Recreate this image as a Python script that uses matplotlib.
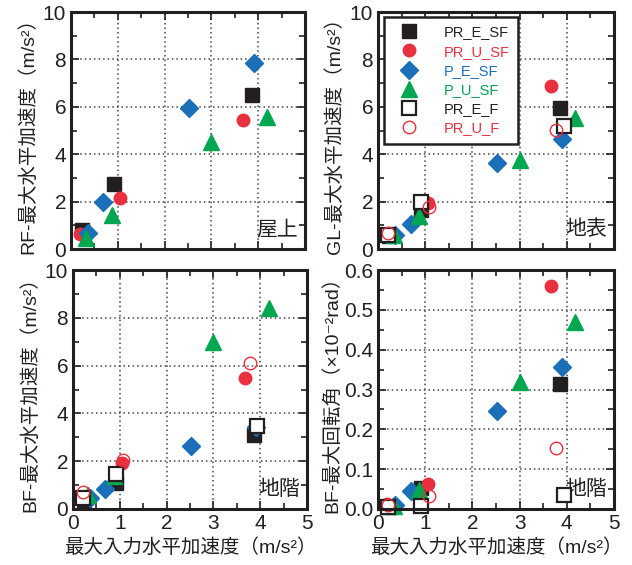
import matplotlib
matplotlib.use("Agg")
import matplotlib.pyplot as plt
from matplotlib.ticker import MultipleLocator

plt.rcParams['font.family'] = ['Liberation Sans', 'Noto Sans CJK JP', 'DejaVu Sans']

# input peak acceleration for each series (m/s^2)
x_pr_e = [0.24, 0.92, 3.86]
x_pr_u = [0.20, 1.05, 3.67]
x_p_e = [0.36, 0.69, 2.53, 3.90]
x_p_u = [0.33, 0.87, 3.00, 4.18]
x_pr_e_f = [0.22, 0.92, 3.94]
x_pr_u_f = [0.22, 1.07, 3.78]

# roof (RF)
rf_pr_e_sf = [0.80, 2.76, 6.50]
rf_pr_u_sf = [0.62, 2.15, 5.44]
rf_p_e_sf = [0.68, 1.98, 5.94, 7.83]
rf_p_u_sf = [0.45, 1.43, 4.50, 5.58]

# ground surface (GL)
gl_pr_e_sf = [0.55, 1.65, 5.94]
gl_pr_u_sf = [0.62, 1.93, 6.88]
gl_p_e_sf = [0.59, 1.05, 3.64, 4.64]
gl_p_u_sf = [0.60, 1.39, 3.76, 5.51]
gl_pr_e_f = [0.59, 1.97, 5.20]
gl_pr_u_f = [0.68, 1.77, 5.02]

# basement (BF)
bf_pr_e_sf = [0.38, 1.07, 3.10]
bf_pr_u_sf = [0.50, 1.91, 5.49]
bf_p_e_sf = [0.45, 0.82, 2.65, 3.42]
bf_p_u_sf = [0.60, 1.38, 7.00, 8.40]
bf_pr_e_f = [0.48, 1.45, 3.49]
bf_pr_u_f = [0.72, 2.05, 6.12]

# basement rotation (x10^-2 rad)
rot_pr_e_sf = [0.005, 0.053, 0.313]
rot_pr_u_sf = [0.012, 0.064, 0.561]
rot_p_e_sf = [0.010, 0.046, 0.246, 0.357]
rot_p_u_sf = [0.008, 0.048, 0.318, 0.470]
rot_pr_e_f = [0.004, 0.008, 0.035]
rot_pr_u_f = [0.010, 0.033, 0.152]

BLACK = '#231f20'
RED = '#e8303f'
BLUE = '#1b6fb8'
GREEN = '#00a650'

STYLES = {
    'PR_E_SF': dict(marker='s', ms=10, mfc=BLACK, mec=BLACK, mew=1.0),
    'PR_U_SF': dict(marker='o', ms=9, mfc=RED, mec=RED, mew=1.0),
    'P_E_SF': dict(marker='D', ms=9, mfc=BLUE, mec=BLUE, mew=1.0),
    'P_U_SF': dict(marker='^', ms=11, mfc=GREEN, mec=GREEN, mew=1.0),
    'PR_E_F': dict(marker='s', ms=10, mfc='white', mec=BLACK, mew=1.6),
    'PR_U_F': dict(marker='o', ms=9, mfc='none', mec=RED, mew=1.0),
}
LABEL_COLORS = {'PR_E_SF': BLACK, 'PR_U_SF': RED, 'P_E_SF': BLUE,
                'P_U_SF': GREEN, 'PR_E_F': BLACK, 'PR_U_F': RED}


def draw(ax, series):
    for name, xs, ys in series:
        ax.plot(xs, ys, ls='none', label=name, clip_on=False, zorder=3, **STYLES[name])


def style_axes(ax, ymax, ymajor, yminor, show_x):
    ax.set_xlim(0, 5)
    ax.set_ylim(0, ymax)
    ax.xaxis.set_major_locator(MultipleLocator(1))
    ax.xaxis.set_minor_locator(MultipleLocator(0.5))
    ax.yaxis.set_major_locator(MultipleLocator(ymajor))
    ax.yaxis.set_minor_locator(MultipleLocator(yminor))
    ax.tick_params(which='both', direction='in', top=True, right=True,
                   width=1.2, colors=BLACK, labelsize=15, labelcolor=BLACK)
    ax.tick_params(which='major', length=6)
    ax.tick_params(which='minor', length=4)
    if not show_x:
        ax.tick_params(axis='x', labelbottom=False)
    ax.grid(True, which='major', ls=(0, (1, 2)), lw=1.1, color='#444444')
    for s in ax.spines.values():
        s.set_linewidth(2.2)
        s.set_color(BLACK)
        s.set_zorder(4)


fig = plt.figure(figsize=(6.32, 5.65), dpi=100)

ax1 = fig.add_axes([71 / 632, 1 - 249 / 565, 234 / 632, 237 / 565])
ax2 = fig.add_axes([378 / 632, 1 - 249 / 565, 236 / 632, 237 / 565])
ax3 = fig.add_axes([73 / 632, 1 - 509 / 565, 234 / 632, 239 / 565])
ax4 = fig.add_axes([378 / 632, 1 - 509 / 565, 236 / 632, 239 / 565])

draw(ax1, [('PR_E_SF', x_pr_e, rf_pr_e_sf), ('PR_U_SF', x_pr_u, rf_pr_u_sf),
           ('P_E_SF', x_p_e, rf_p_e_sf), ('P_U_SF', x_p_u, rf_p_u_sf)])
draw(ax2, [('PR_E_SF', x_pr_e, gl_pr_e_sf), ('PR_U_SF', x_pr_u, gl_pr_u_sf),
           ('P_E_SF', x_p_e, gl_p_e_sf), ('P_U_SF', x_p_u, gl_p_u_sf),
           ('PR_E_F', x_pr_e_f, gl_pr_e_f), ('PR_U_F', x_pr_u_f, gl_pr_u_f)])
draw(ax3, [('PR_E_SF', x_pr_e, bf_pr_e_sf), ('PR_U_SF', x_pr_u, bf_pr_u_sf),
           ('P_E_SF', x_p_e, bf_p_e_sf), ('P_U_SF', x_p_u, bf_p_u_sf),
           ('PR_E_F', x_pr_e_f, bf_pr_e_f), ('PR_U_F', x_pr_u_f, bf_pr_u_f)])
draw(ax4, [('PR_E_SF', x_pr_e, rot_pr_e_sf), ('PR_U_SF', x_pr_u, rot_pr_u_sf),
           ('P_E_SF', x_p_e, rot_p_e_sf), ('P_U_SF', x_p_u, rot_p_u_sf),
           ('PR_E_F', x_pr_e_f, rot_pr_e_f), ('PR_U_F', x_pr_u_f, rot_pr_u_f)])

style_axes(ax1, 10, 2, 1, False)
style_axes(ax2, 10, 2, 1, False)
style_axes(ax3, 10, 2, 1, True)
style_axes(ax4, 0.6, 0.1, 0.05, True)

lab = dict(fontsize=14, color=BLACK)
ax1.set_ylabel('RF-最大水平加速度（m/s²）', labelpad=4, **lab)
ax2.set_ylabel('GL-最大水平加速度（m/s²）', labelpad=4, **lab)
ax3.set_ylabel('BF-最大水平加速度（m/s²）', labelpad=4, **lab)
ax4.set_ylabel('BF-最大回転角（×10⁻²rad）', labelpad=2, **lab)
ax3.set_xlabel('最大入力水平加速度（m/s²）', labelpad=4, **lab)
ax4.set_xlabel('最大入力水平加速度（m/s²）', labelpad=4, **lab)

for ax, name in [(ax1, '屋上'), (ax2, '地表'), (ax3, '地階'), (ax4, '地階')]:
    ax.text(0.97, 0.04, name, transform=ax.transAxes, ha='right', va='bottom',
            fontsize=15, color=BLACK, zorder=2)

leg = ax2.legend(loc='upper left', bbox_to_anchor=(0.025, 0.98), fontsize=10.5,
                 frameon=True, fancybox=False, framealpha=1, edgecolor=BLACK,
                 borderpad=0.6, handletextpad=1.3, labelspacing=0.35,
                 handlelength=2.2, borderaxespad=0, markerscale=1.0)
leg.get_frame().set_linewidth(1.8)
leg.set_zorder(5)
for txt in leg.get_texts():
    txt.set_color(LABEL_COLORS[txt.get_text()])

fig.savefig('out.png', dpi=100)
